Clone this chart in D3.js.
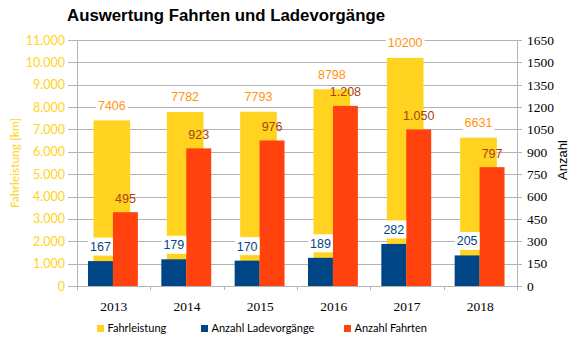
<!DOCTYPE html>
<html>
<head>
<meta charset="utf-8">
<script src="https://cdn.jsdelivr.net/npm/d3@7"></script>
<style>
	body { margin: 0; background: #fff; }
	svg { display: block; }
</style>
</head>
<body>
<div id="chart"></div>
<script>
var years = ['2013', '2014', '2015', '2016', '2017', '2018'];
var fahrleistung = [7406, 7782, 7793, 8798, 10200, 6631];
var ladevorgaenge = [167, 179, 170, 189, 282, 205];
var fahrten = [495, 923, 976, 1208, 1050, 797];
var leftTicks = [0, 1000, 2000, 3000, 4000, 5000, 6000, 7000, 8000, 9000, 10000, 11000];
var rightTicks = [0, 150, 300, 450, 600, 750, 900, 1050, 1200, 1350, 1500, 1650];
var legendItems = ['Fahrleistung', 'Anzahl Ladevorgänge', 'Anzahl Fahrten'];

var width = 573, height = 349;
var plot = {left: 77, right: 517, top: 40, bottom: 286};

var colors = {
	yellow: '#ffd320',
	blue: '#004586',
	red: '#ff420e',
	grid: '#b3b3b3',
	yellowLabel: '#ff950e',
	redLabel: '#a8400f'
};

var de = d3.formatLocale({decimal: ',', thousands: '.', grouping: [3], currency: ['', ' €']});
var fmtDots = de.format(',d');

var svg = d3.select('#chart').append('svg')
	.attr('width', width)
	.attr('height', height);

var x = d3.scaleBand().domain(years).range([plot.left, plot.right]).padding(0);
var yLeft = d3.scaleLinear().domain([0, 11000]).range([plot.bottom, plot.top]);
var yRight = d3.scaleLinear().domain([0, 1650]).range([plot.bottom, plot.top]);
var bw = x.bandwidth();

// gridlines (shared by both axes)
svg.append('g').selectAll('line')
	.data(leftTicks)
	.enter().append('line')
	.attr('x1', plot.left - 9)
	.attr('x2', plot.right + 5)
	.attr('y1', function(d){ return Math.round(yLeft(d)) + 0.5; })
	.attr('y2', function(d){ return Math.round(yLeft(d)) + 0.5; })
	.attr('stroke', colors.grid)
	.attr('stroke-width', 1);

// axis lines
svg.append('line')
	.attr('x1', plot.left + 0.5).attr('x2', plot.left + 0.5)
	.attr('y1', plot.top).attr('y2', plot.bottom + 4)
	.attr('stroke', colors.grid);
svg.append('line')
	.attr('x1', plot.right + 0.5).attr('x2', plot.right + 0.5)
	.attr('y1', plot.top).attr('y2', plot.bottom + 4)
	.attr('stroke', colors.grid);

// category ticks below the axis
svg.append('g').selectAll('line')
	.data(years.slice(1))
	.enter().append('line')
	.attr('x1', function(d){ return Math.round(x(d)) + 0.5; })
	.attr('x2', function(d){ return Math.round(x(d)) + 0.5; })
	.attr('y1', plot.bottom)
	.attr('y2', plot.bottom + 4)
	.attr('stroke', colors.grid);

// bars: Fahrleistung on the left axis, behind
svg.append('g').selectAll('rect')
	.data(fahrleistung)
	.enter().append('rect')
	.attr('x', function(d, i){ return x(years[i]) + bw * 0.225; })
	.attr('width', bw * 0.5)
	.attr('y', function(d){ return yLeft(d); })
	.attr('height', function(d){ return plot.bottom - yLeft(d); })
	.attr('fill', colors.yellow);

// bars: Ladevorgaenge and Fahrten on the right axis
svg.append('g').selectAll('rect')
	.data(ladevorgaenge)
	.enter().append('rect')
	.attr('x', function(d, i){ return x(years[i]) + bw * 0.15; })
	.attr('width', bw * 0.34)
	.attr('y', function(d){ return yRight(d); })
	.attr('height', function(d){ return plot.bottom - yRight(d); })
	.attr('fill', colors.blue);

svg.append('g').selectAll('rect')
	.data(fahrten)
	.enter().append('rect')
	.attr('x', function(d, i){ return x(years[i]) + bw * 0.49; })
	.attr('width', bw * 0.34)
	.attr('y', function(d){ return yRight(d); })
	.attr('height', function(d){ return plot.bottom - yRight(d); })
	.attr('fill', colors.red);

// value labels
var labelFont = '"Liberation Sans", Arial, sans-serif';

function addLabels(values, cx, cy, fmt, color, boxed){
	var g = svg.append('g');
	values.forEach(function(v, i){
		var lg = g.append('g')
			.attr('transform', 'translate(' + cx(v, i) + ',' + cy(v, i) + ')');
		var rect = lg.append('rect').attr('fill', '#fff');
		var t = lg.append('text')
			.attr('text-anchor', 'middle')
			.attr('dy', '0.36em')
			.attr('font-family', labelFont)
			.attr('font-size', 12.5)
			.attr('fill', color)
			.text(fmt(v));
		if (boxed){
			var bb = t.node().getBBox();
			rect.attr('x', bb.x - 2).attr('y', -9)
				.attr('width', bb.width + 4).attr('height', 18);
		}else{
			rect.remove();
		}
	});
}

addLabels(fahrleistung,
	function(v, i){ return x(years[i]) + bw * 0.475; },
	function(v){ return yLeft(v) - 15; },
	function(v){ return String(v); }, colors.yellowLabel, true);

addLabels(ladevorgaenge,
	function(v, i){ return x(years[i]) + bw * 0.32; },
	function(v){ return yRight(v) - 14.5; },
	fmtDots, colors.blue, true);

addLabels(fahrten,
	function(v, i){ return x(years[i]) + bw * 0.66; },
	function(v){ return yRight(v) - 14; },
	fmtDots, colors.redLabel, false);

// left axis labels
svg.append('g').selectAll('text')
	.data(leftTicks)
	.enter().append('text')
	.attr('x', 65)
	.attr('y', function(d){ return yLeft(d); })
	.attr('dy', '0.36em')
	.attr('text-anchor', 'end')
	.attr('font-family', 'Lato, sans-serif')
	.attr('font-size', 12.5)
	.attr('fill', colors.yellow)
	.text(fmtDots);

// right axis labels
svg.append('g').selectAll('text')
	.data(rightTicks)
	.enter().append('text')
	.attr('x', 527)
	.attr('y', function(d){ return yRight(d); })
	.attr('dy', '0.36em')
	.attr('font-family', '"Liberation Serif", serif')
	.attr('font-size', 13.5)
	.attr('fill', '#000')
	.text(function(d){ return String(d); });

// category labels
svg.append('g').selectAll('text')
	.data(years)
	.enter().append('text')
	.attr('x', function(d){ return x(d) + bw / 2; })
	.attr('y', 311)
	.attr('text-anchor', 'middle')
	.attr('font-family', '"Liberation Serif", serif')
	.attr('font-size', 13.5)
	.attr('fill', '#000')
	.text(function(d){ return d; });

// axis titles
svg.append('text')
	.attr('transform', 'translate(19,163) rotate(-90)')
	.attr('text-anchor', 'middle')
	.attr('font-family', 'Lato, sans-serif')
	.attr('font-size', 12)
	.attr('fill', colors.yellow)
	.text('Fahrleistung [km]');

svg.append('text')
	.attr('transform', 'translate(567,160) rotate(-90)')
	.attr('text-anchor', 'middle')
	.attr('font-family', labelFont)
	.attr('font-size', 13)
	.attr('fill', '#000')
	.text('Anzahl');

// title
svg.append('text')
	.attr('x', 226)
	.attr('y', 21)
	.attr('text-anchor', 'middle')
	.attr('font-family', labelFont)
	.attr('font-weight', 'bold')
	.attr('font-size', 16.8)
	.attr('fill', '#000')
	.text('Auswertung Fahrten und Ladevorgänge');

// legend
var legendColors = [colors.yellow, colors.blue, colors.red];
var legendX = [97, 201, 344];
var legend = svg.append('g').selectAll('g')
	.data(legendItems)
	.enter().append('g')
	.attr('transform', function(d, i){ return 'translate(' + legendX[i] + ',325)'; });
legend.append('rect')
	.attr('width', 7).attr('height', 7)
	.attr('fill', function(d, i){ return legendColors[i]; });
legend.append('text')
	.attr('x', 10.5)
	.attr('y', 3.5)
	.attr('dy', '0.36em')
	.attr('font-family', 'Lato, sans-serif')
	.attr('font-size', 11)
	.attr('fill', '#000')
	.text(function(d){ return d; });
</script>
</body>
</html>
